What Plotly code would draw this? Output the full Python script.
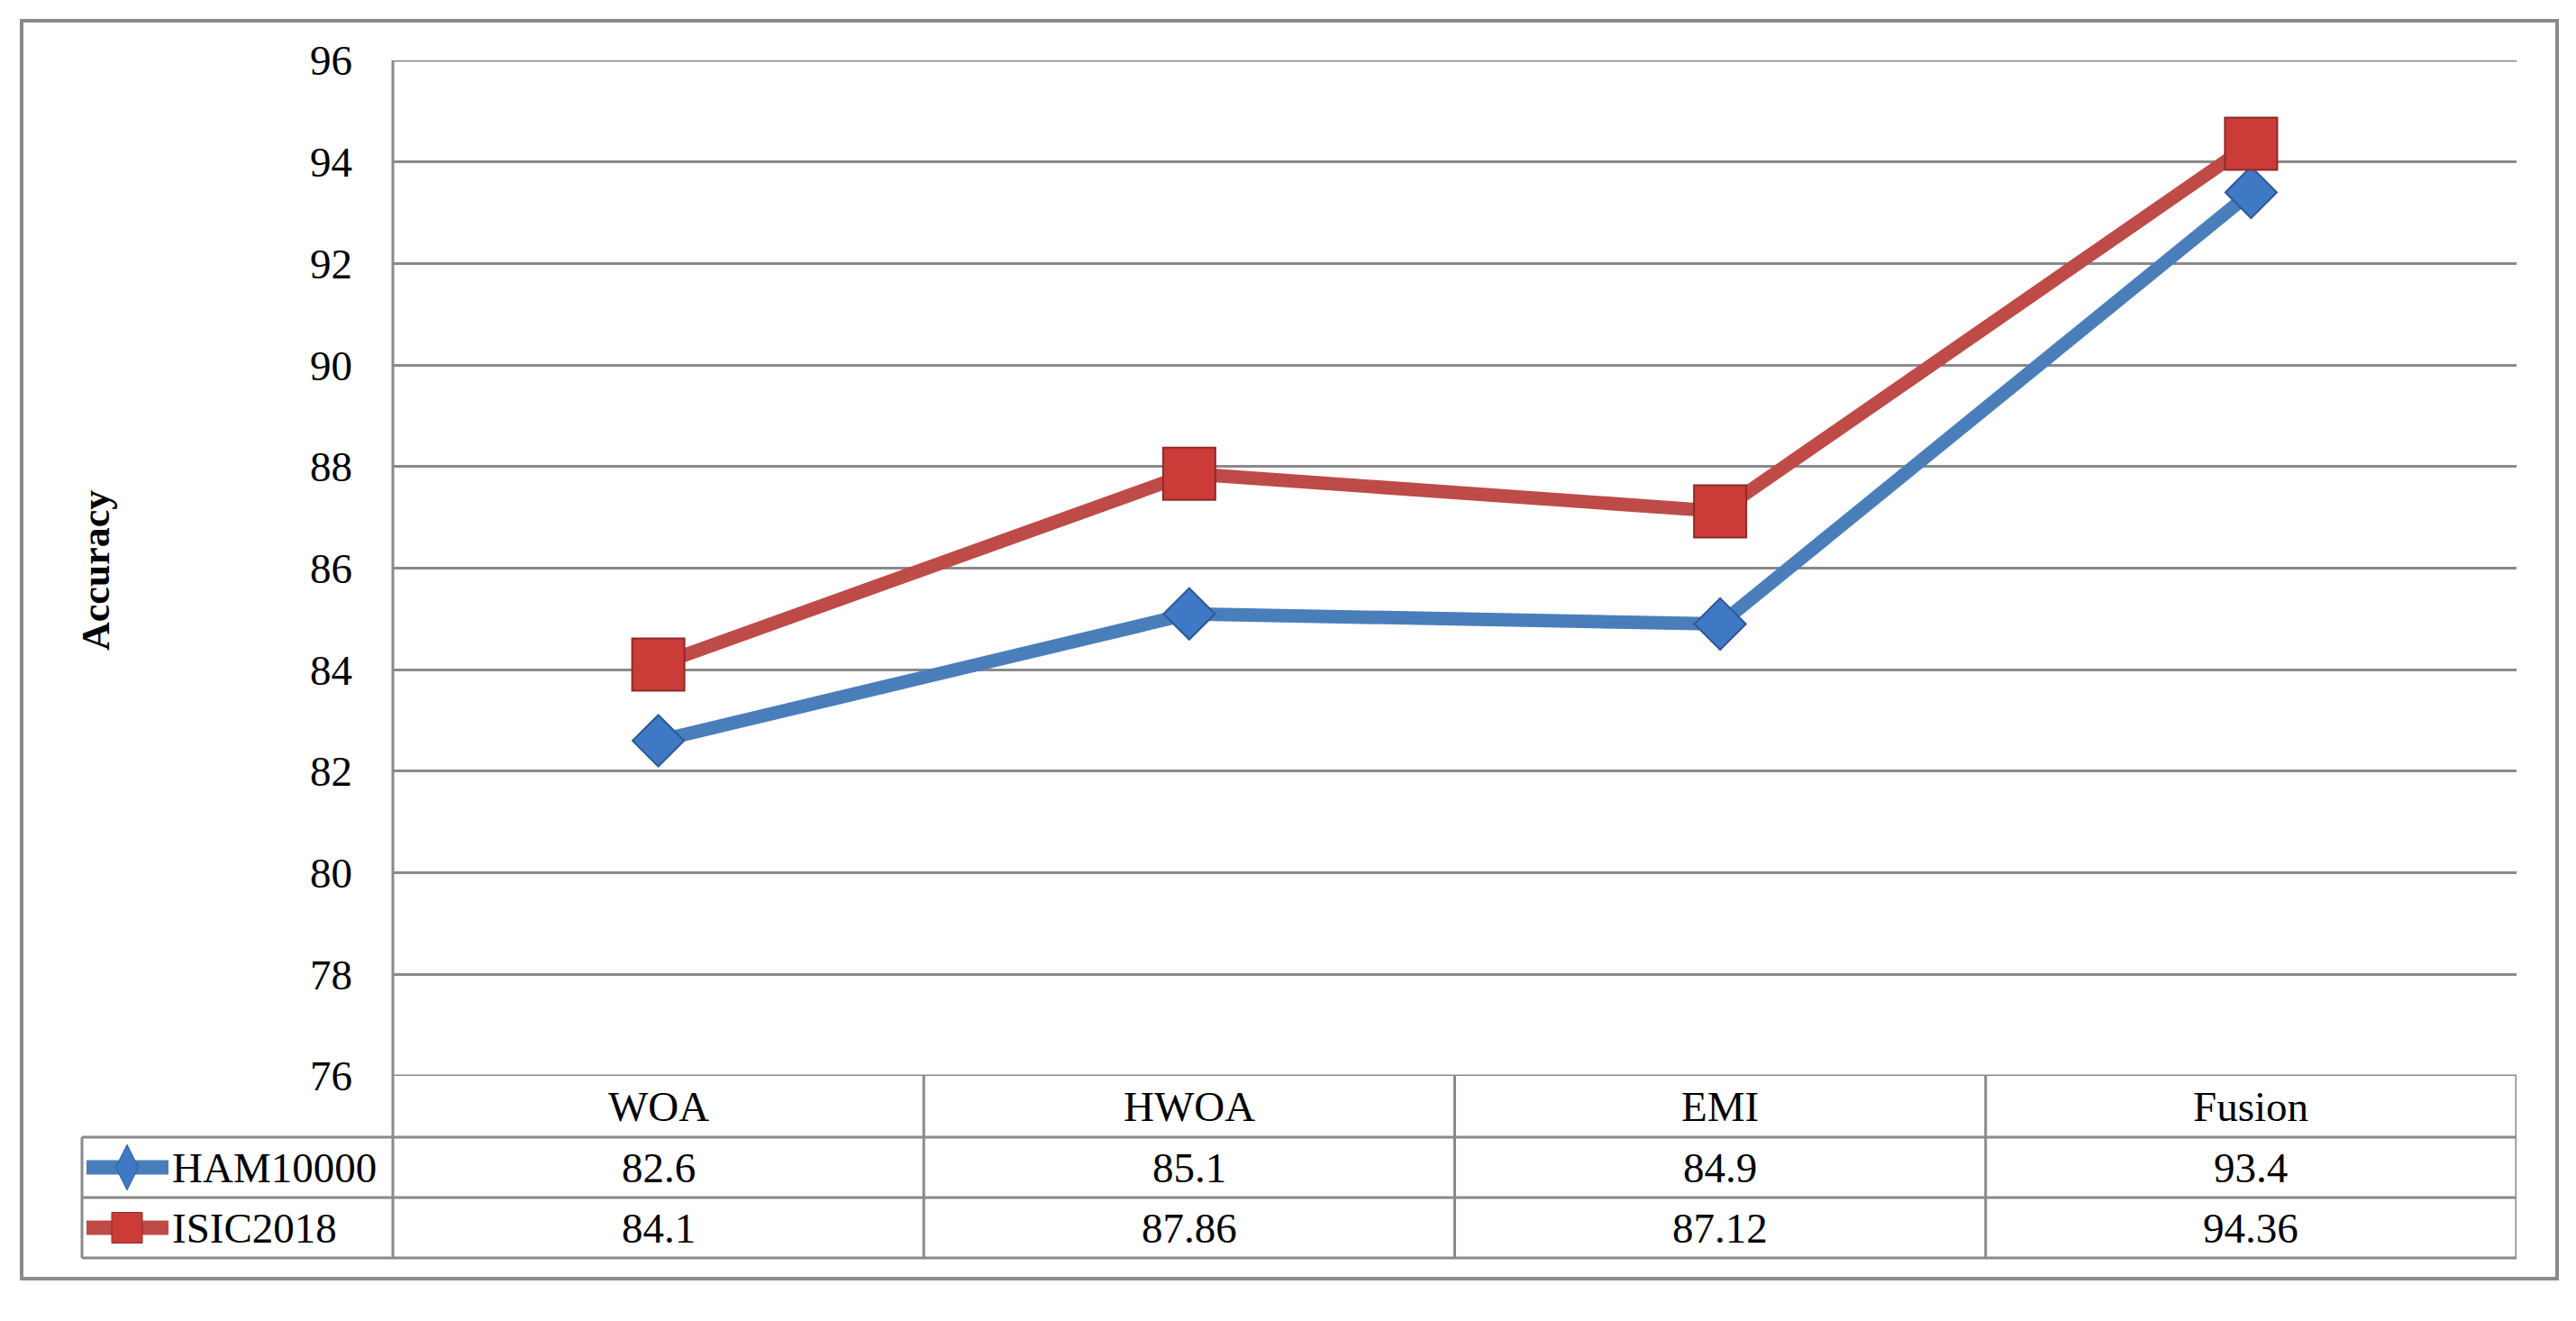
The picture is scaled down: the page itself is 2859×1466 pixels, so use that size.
import plotly.graph_objects as go

W, H = 2859, 1466

categories = ["WOA", "HWOA", "EMI", "Fusion"]
series_names = ["HAM10000", "ISIC2018"]
ham10000 = [82.6, 85.1, 84.9, 93.4]
isic2018 = [84.1, 87.86, 87.12, 94.36]
table_labels = [["82.6", "85.1", "84.9", "93.4"], ["84.1", "87.86", "87.12", "94.36"]]
y_ticks = [76, 78, 80, 82, 84, 86, 88, 90, 92, 94, 96]

BLUE = "#4A7EBB"
BLUE_M = "#3F78C4"
BLUE_E = "#2C5A92"
RED = "#BE4B48"
RED_M = "#CB3B38"
RED_E = "#8E2A28"
GRID = "#8A8A8A"
FONT = "Liberation Serif"


def px(x):
    return x / W


def py(y):
    return 1 - y / H


# layout geometry (pixels)
PL, PR, PT, PB = 436, 2793, 67, 1194
ROW_H = [1194, 1262, 1329, 1396]
TBL_L = 91

fig = go.Figure()

fig.add_trace(go.Scatter(
    x=categories, y=ham10000, name=series_names[0], mode="lines+markers",
    line=dict(color=BLUE, width=15),
    marker=dict(symbol="diamond", size=44, color=BLUE_M, line=dict(color=BLUE_E, width=2)),
    hoverinfo="skip"))
fig.add_trace(go.Scatter(
    x=categories, y=isic2018, name=series_names[1], mode="lines+markers",
    line=dict(color=RED, width=15),
    marker=dict(symbol="square", size=58, color=RED_M, line=dict(color=RED_E, width=2)),
    hoverinfo="skip"))

# legend keys inside the table (separate full-page axis pair)
key_x = [96, 187]
key_cx = 141
row_centers = [(ROW_H[1] + ROW_H[2]) / 2, (ROW_H[2] + ROW_H[3]) / 2]
key_styles = [(BLUE, BLUE_M, BLUE_E, "diamond-tall", 36), (RED, RED_M, RED_E, "square", 34)]
for (lc, mc, ec, sym, sz), rc in zip(key_styles, row_centers):
    fig.add_trace(go.Scatter(x=key_x, y=[rc, rc], xaxis="x2", yaxis="y2", mode="lines",
                             line=dict(color=lc, width=16), showlegend=False, hoverinfo="skip"))
    fig.add_trace(go.Scatter(x=[key_cx], y=[rc], xaxis="x2", yaxis="y2", mode="markers",
                             marker=dict(symbol=sym, size=sz, color=mc, line=dict(color=ec, width=1)),
                             showlegend=False, hoverinfo="skip"))

shapes = []
line_style = dict(color=GRID, width=3)
# outer border
shapes.append(dict(type="rect", xref="paper", yref="paper", x0=px(24), x1=px(2838), y0=py(23), y1=py(1419),
                   line=dict(color=GRID, width=4), layer="below"))
# top and bottom gridlines of the value axis (explicit, so they are always drawn)
for yv in (y_ticks[0], y_ticks[-1]):
    shapes.append(dict(type="line", xref="x", yref="y", x0=-0.5, x1=len(categories) - 0.5, y0=yv, y1=yv,
                       line=line_style, layer="below"))
# plot left vertical line, from top to table bottom
shapes.append(dict(type="line", xref="paper", yref="paper", x0=px(PL), x1=px(PL), y0=py(PT), y1=py(ROW_H[3]),
                   line=line_style, layer="below"))
# table column separators
for i in range(1, len(categories) + 1):
    shapes.append(dict(type="line", xref="x", yref="paper", x0=i - 0.5, x1=i - 0.5,
                       y0=py(ROW_H[0]), y1=py(ROW_H[3]), line=line_style, layer="below"))
# table horizontal lines
for yy in ROW_H[1:]:
    shapes.append(dict(type="line", xref="paper", yref="paper", x0=px(TBL_L), x1=px(PR), y0=py(yy), y1=py(yy),
                       line=line_style, layer="below"))
shapes.append(dict(type="line", xref="paper", yref="paper", x0=px(TBL_L), x1=px(TBL_L),
                   y0=py(ROW_H[1]), y1=py(ROW_H[3]), line=line_style, layer="below"))

annotations = []
hdr_c = (ROW_H[0] + ROW_H[1]) / 2
for i, c in enumerate(categories):
    annotations.append(dict(x=i, y=py(hdr_c), xref="x", yref="paper", text=c, showarrow=False,
                            font=dict(family=FONT, size=47, color="black"), xanchor="center", yanchor="middle"))
for r, (name, labels) in enumerate(zip(series_names, table_labels)):
    annotations.append(dict(x=px(189), y=py(row_centers[r]), xref="paper", yref="paper", text=name,
                            showarrow=False, font=dict(family=FONT, size=47, color="black"),
                            xanchor="left", yanchor="middle"))
    for i, t in enumerate(labels):
        annotations.append(dict(x=i, y=py(row_centers[r]), xref="x", yref="paper", text=t, showarrow=False,
                                font=dict(family=FONT, size=47, color="black"), xanchor="center", yanchor="middle"))
annotations.append(dict(x=px(107), y=py(633), xref="paper", yref="paper", text="<b>Accuracy</b>",
                        showarrow=False, textangle=-90, font=dict(family=FONT, size=44, color="black"),
                        xanchor="center", yanchor="middle"))

fig.update_layout(
    width=W, height=H, margin=dict(l=0, r=0, t=0, b=0, pad=0, autoexpand=False),
    paper_bgcolor="white", plot_bgcolor="rgba(0,0,0,0)", showlegend=False,
    xaxis=dict(domain=[px(PL), px(PR)], range=[-0.5, len(categories) - 0.5], showticklabels=False,
               showgrid=False, zeroline=False, showline=False, fixedrange=True, automargin=False),
    yaxis=dict(domain=[py(PB), py(PT)], range=[y_ticks[0], y_ticks[-1]], tickvals=y_ticks,
               showgrid=True, gridcolor=GRID, gridwidth=3, zeroline=False, showline=False,
               ticks="", ticklabelstandoff=44, automargin=False,
               tickfont=dict(family=FONT, size=47, color="black"), fixedrange=True),
    xaxis2=dict(domain=[0, 1], range=[0, W], anchor="y2", visible=False, fixedrange=True, automargin=False),
    yaxis2=dict(domain=[0, 1], range=[H, 0], anchor="x2", visible=False, fixedrange=True, automargin=False),
    shapes=shapes, annotations=annotations,
)

fig.write_html("out.html", config={"displayModeBar": False},
               post_script="document.body.style.margin='0';")
